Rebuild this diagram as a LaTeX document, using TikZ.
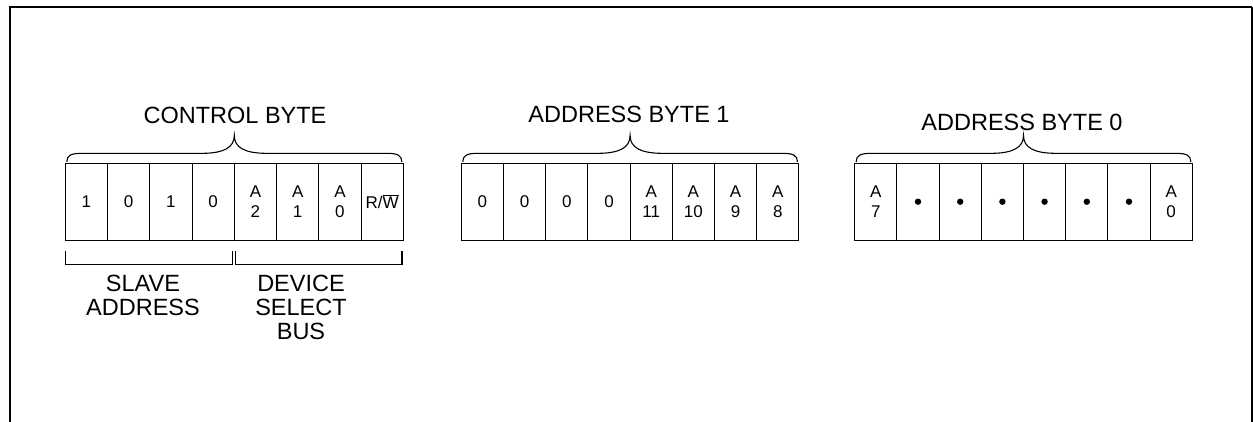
\documentclass[tikz,border=0pt]{standalone}
\usepackage{fontspec}
\setmainfont{Liberation Sans}
\usetikzlibrary{calc}
\newcommand\topbrace[2]{%
  \draw[brc] let \p1=(#1.north west), \p2=(#2.north east), \n1={(\x1+\x2)/2} in
    ({\x1+1.5pt},{\y1+1.5pt}) .. controls ({\x1+1.5pt},{\y1+8pt}) and ({\x1+6pt},{\y1+10pt}) .. ({\x1+16pt},{\y1+10pt})
    -- ({\n1-33pt},{\y1+10pt}) .. controls ({\n1-10pt},{\y1+10pt}) and ({\n1},{\y1+16pt}) .. ({\n1},{\y1+28pt})
    .. controls ({\n1},{\y1+16pt}) and ({\n1+10pt},{\y1+10pt}) .. ({\n1+33pt},{\y1+10pt})
    -- ({\x2-16pt},{\y1+10pt}) .. controls ({\x2-6pt},{\y1+10pt}) and ({\x2-1.5pt},{\y1+8pt}) .. ({\x2-1.5pt},{\y1+1.5pt});}
\begin{document}
\begin{tikzpicture}[x=1pt,y=-1pt,
  cell/.style={draw, line width=1.1pt, minimum width=42.25pt, minimum height=76.7pt, inner sep=0pt, outer sep=0pt, align=center, font=\fontsize{17}{20}\selectfont},
  title/.style={font=\fontsize{23.5}{24}\selectfont, inner sep=0pt},
  lbl/.style={font=\fontsize{23.5}{24}\selectfont, align=center, inner sep=0pt},
  brc/.style={line width=1.1pt}]
\useasboundingbox (0,0) rectangle (1253,421);
% frame
\draw[line width=2pt] (10,422) -- (10,7) -- (1252,7);
\draw[line width=1.2pt] (1252,7) -- (1252,422);
% control byte
\foreach \t [count=\i] in {1,0,1,0,{A\\2},{A\\1},{A\\0},{R/$\overline{\mbox{W}}$}}
  \node[cell] (c\i) at ({65.3+42.25*(\i-0.5)},201.7) {\t};
% address byte 1
\foreach \t [count=\i] in {0,0,0,0,{A\\11},{A\\10},{A\\9},{A\\8}}
  \node[cell] (a\i) at ({461.3+42.2*(\i-0.5)},201.7) {\t};
% address byte 0
\foreach \t [count=\i] in {{A\\7},{},{},{},{},{},{},{A\\0}}
  \node[cell] (b\i) at ({854.7+42.2*(\i-0.5)},201.7) {\t};
\foreach \i in {2,...,7} \fill (b\i.center) circle (3.2pt);
% titles
\node[title] (tc) at (235,115) {CONTROL BYTE};
\node[title] (ta) at (629,114) {ADDRESS BYTE 1};
\node[title] (tb) at (1022,122) {ADDRESS BYTE 0};
% braces
\topbrace{c1}{c8}
\topbrace{a1}{a8}
\topbrace{b1}{b8}
% lower brackets
\draw[brc] ([yshift=-10.7pt]c1.south west) -- ([yshift=-24pt]c1.south west)
  -- ([xshift=-2pt,yshift=-24pt]c4.south east) -- ([xshift=-2pt,yshift=-10.7pt]c4.south east);
\draw[brc] ([xshift=1.3pt,yshift=-10.7pt]c5.south west) -- ([xshift=1.3pt,yshift=-24pt]c5.south west)
  -- ([xshift=-1.3pt,yshift=-24pt]c8.south east) -- ([xshift=-1.3pt,yshift=-10.7pt]c8.south east);
\node[lbl] (sa) at (143,295) {SLAVE\\ADDRESS};
\node[lbl] (ds) at (301,307) {DEVICE\\SELECT\\BUS};
\end{tikzpicture}
\end{document}
